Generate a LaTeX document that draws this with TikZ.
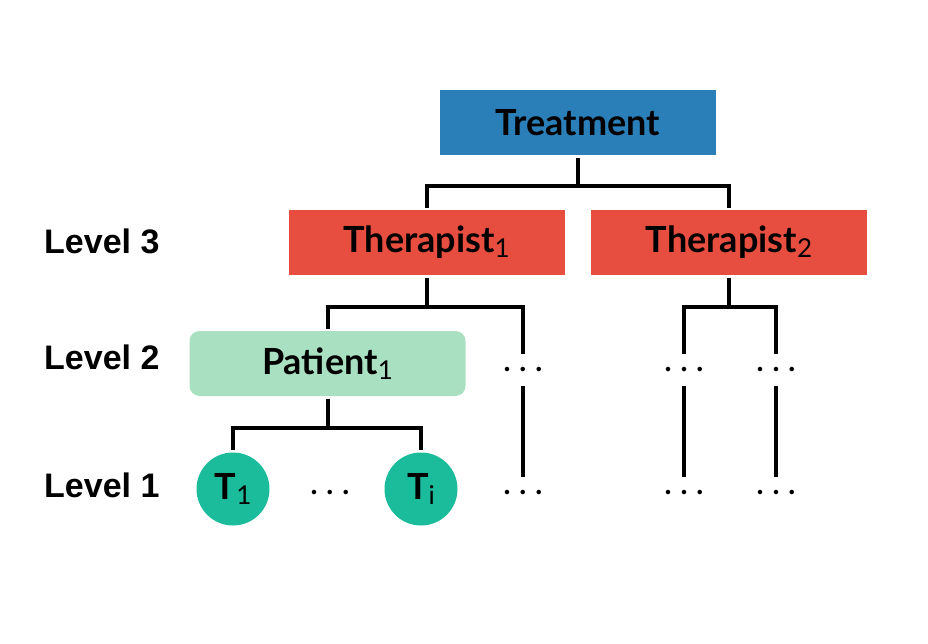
\documentclass[tikz,border=0pt]{standalone}
\usepackage{fontspec}
\setmainfont{Lato}
\newfontfamily\levelfont{Liberation Sans}

\definecolor{treatblue}{HTML}{2A7FB8}
\definecolor{therred}{HTML}{E74E40}
\definecolor{patgreen}{HTML}{A9E0C1}
\definecolor{tgreen}{HTML}{1ABC9C}

\newcommand{\idx}[1]{\raisebox{-4.5pt}{\fontsize{26}{30}\fontseries{m}\selectfont #1}}
\newcommand{\skipdots}{{\fontseries{m}\selectfont .\kern7.5pt.\kern7.5pt.}}

\tikzset{x=1pt, y=-1pt, node font=\fontsize{36}{42}\selectfont\bfseries}

\begin{document}
\begin{tikzpicture}[
    box/.style={minimum width=276, minimum height=65, inner sep=0pt},
    tcirc/.style={circle, fill=tgreen, minimum size=73, inner sep=0pt},
    gap/.style={minimum height=32, inner sep=0pt},
    level/.style={anchor=west, inner sep=0pt, font=\fontsize{34}{40}\levelfont\bfseries},
    tree/.style={line width=4, shorten <=2.5, shorten >=2}]
  \useasboundingbox (0,0) rectangle (928,644);

  % levels
  \node [level] (lev3) at (44,241) {Level 3};
  \node [level] (lev2) at (44,357) {Level 2};
  \node [level] (lev1) at (44,485) {Level 1};

  % boxes
  \node [box, fill=treatblue] (treat) at (578,122.5) {Treatment};
  \node [box, fill=therred] (ther1) at (426.5,242.5) {Therapist\idx{1}};
  \node [box, fill=therred] (ther2) at (729,242.5) {Therapist\idx{2}};
  \node [box, fill=patgreen, rounded corners=10] (pat) at (327.5,363.5) {Patient\idx{1}};
  \node [tcirc] (t1) at (233,489) {T\idx{1}};
  \node [tcirc] (ti) at (421,489) {T\idx{i}};

  % dots
  \node [gap] (tdots) at (330,493) {\skipdots};
  \node [gap] (d1a) at (523,370) {\skipdots};
  \node [gap] (d1b) at (523,493) {\skipdots};
  \node [gap] (d2a) at (684,370) {\skipdots};
  \node [gap] (d2b) at (684,493) {\skipdots};
  \node [gap] (d3a) at (776,370) {\skipdots};
  \node [gap] (d3b) at (776,493) {\skipdots};

  % forks
  \coordinate (treat-fork) at (578,186);
  \coordinate (ther1-fork) at (426.5,307);
  \coordinate (ther2-fork) at (729,307);
  \coordinate (pat-fork) at (327.5,428);

  \draw [tree, shorten >=0] (treat.south) -- (treat-fork);
  \draw [tree, shorten <=0] (treat-fork) -| (ther1.north);
  \draw [tree, shorten <=0] (treat-fork) -| (ther2.north);

  \draw [tree, shorten >=0] (ther1.south) -- (ther1-fork);
  \draw [tree, shorten <=0] (ther1-fork) -| (pat.north);
  \draw [tree, shorten <=0, shorten >=0] (ther1-fork) -| (d1a.north);
  \draw [tree, shorten <=0, shorten >=0] (d1a.south) -- (d1b.north);

  \draw [tree, shorten >=0] (ther2.south) -- (ther2-fork);
  \draw [tree, shorten <=0, shorten >=0] (ther2-fork) -| (d2a.north);
  \draw [tree, shorten <=0, shorten >=0] (ther2-fork) -| (d3a.north);
  \draw [tree, shorten <=0, shorten >=0] (d2a.south) -- (d2b.north);
  \draw [tree, shorten <=0, shorten >=0] (d3a.south) -- (d3b.north);

  \draw [tree, shorten >=0] (pat.south) -- (pat-fork);
  \draw [tree, shorten <=0] (pat-fork) -| (t1.north);
  \draw [tree, shorten <=0] (pat-fork) -| (ti.north);
\end{tikzpicture}
\end{document}
